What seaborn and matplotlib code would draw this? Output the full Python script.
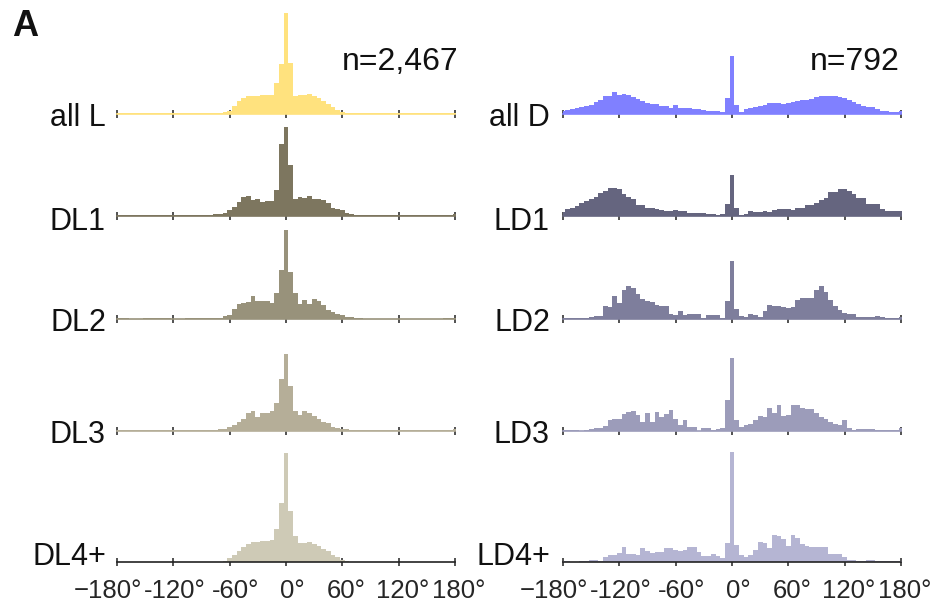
import numpy as np
import pandas as pd
import matplotlib
matplotlib.use("Agg")
import matplotlib.pyplot as plt
import matplotlib.transforms as mtransforms
import seaborn as sns

sns.set_theme(style="white")
plt.rcParams['font.family'] = ['Liberation Sans', 'DejaVu Sans']

# bin centres (degrees), 5-degree bins
centers = np.arange(-180, 181, 5)

# ---- left column (L) ----
all_L = [1,1,1,1,1,1,1,1,1,1,1,1,
         1,1,1,1,1,1,1,1,1,1,1.5,2,
         3,8,13,16,18,18,18.5,19,19,19.5,31,50,
         101,
         51,18,19,19.5,20,18,16,13,10,7,4,2,
         1.5,1,1,1,1,1,1,1,1,1,1,1,
         1,1,1,1,1,1,1,1,1,1,1,1]
DL1 = [1,1,1,1,1,1,1,1.5,1,1,1,1,
       1,1,1,1,1,1,1.5,1.5,1.5,2,2,3,
       6,9,14,19,20,16,17,14,15,15,26,72,
       89,
       51,17,19,18,20,17,17,16,13,8,7,6,
       3,2,1.5,1,1,1,1,1,1,1,1,1,
       1,1,1,1,1,1,1,1,1,1,1.5,2]
DL2 = [1,1,1,0.5,0.5,0.5,1,1,1,1,1,1,
       0.5,0.5,0.5,1,1,1.5,1.5,1.5,1,1,1,3,
       4,10,15,16,17,23,18,18,18,16,26,49,
       89,
       47,26,15,19,15,20,18,14,9,7,5,4,
       2,2,1,1,0.5,0.5,0.5,0.5,0.5,0.5,0.5,0.5,
       0.5,0.5,0.5,0.5,0.5,0.5,0.5,0.5,0.5,1,1,1.5]
DL3 = [1,1,1,1,1,1,1,1,1,1,1,1,
       1,1,1,1,1,1,1,1,1,1,2,2,
       4,6,9,12,18,20,14,18,18,20,28,52,
       77,
       45,20,16,20,18,15,12,9,8,4,3,2,
       2,1,1,1,1,1,1,1,1,1,1,1,
       1,1,1,1,1,1,1,1,1,1,1,2]
DL4 = [0.3,0.3,0.3,0.3,0.3,0.3,0.3,0.3,0.3,0.3,0.3,0.3,
       0.3,0.3,0.3,0.3,0.3,0.3,0.3,0.3,0.3,0.3,0.5,1,
       4,7,11,15,18,20,20,21,21,22,33,59,
       109,
       51,26,19,19,20,18,16,13,11,7,5,2,
       1,0.5,0.3,0.3,0.3,0.3,0.3,0.3,0.3,0.3,0.3,0.3,
       0.3,0.3,0.3,0.3,0.3,0.3,0.3,0.3,0.3,0.3,0.3,0.3]

# ---- right column (D) ----
all_D = [3,4,5,6,7,8,9,12,14,18,18,22,
         19,20,19,17,15,13,11,10,10,8,8,6,
         9,6,6,6,5,5,4,3,3,3,2,16,
         58,
         9,2,5,6,7,8,9,11,11,11,10,11,
         12,13,14,14,15,17,18,18,18,18,17,16,
         14,12,10,8,7,7,5,3,3,2,2,3]
LD1 = [4,7,8,10,13,15,17,19,23,25,28,28,
       27,22,19,17,11,11,8,8,7,6,5,5,
       6,5,5,3,3,3,3,2,2,1.5,2,12,
       41,
       8,1.5,2,5,4,4,5,4,6,7,7,7,
       6,8,8,11,11,13,16,18,24,24,27,27,
       25,22,18,18,12,12,12,7,5,5,5,5]
LD2 = [1,1,1.5,1,1.5,1.5,2,3,3,13,12,23,
       16,29,33,31,25,20,18,17,14,13,13,5,
       4,8,4,5,5,5,1,4,4,4,1,18,
       58,
       10,3,2,5,4,2,8,14,13,13,12,11,
       12,19,21,21,21,29,33,27,19,13,9,6,
       5,5,2,2,2,2,3,2,1,1,1,2]
LD3 = [1,1,1,1,0.5,1,2,3,3,5,11,12,
       12,17,19,20,16,9,18,9,19,14,17,21,
       12,6,11,4,4,0.3,3,3,1,2,3,31,
       73,
       11,4,6,7,11,15,14,23,18,26,15,16,
       26,26,23,22,22,18,14,12,9,7,6,11,
       3,1,2,2,2,2,1,1,1,1,1,3]
LD4 = [1,1,0.5,0.5,1,1,2,2,1,5,7,7,
       9,15,8,8,7,14,11,9,10,10,14,14,
       12,11,12,15,15,10,6,6,8,6,4,19,
       122,
       17,7,5,7,12,20,19,14,27,26,23,16,
       27,24,18,16,15,15,15,15,8,8,8,5,
       2,2,1,1,2,2,1,1,1,1,1,1]

left_names = ["all L", "DL1", "DL2", "DL3", "DL4+"]
right_names = ["all D", "LD1", "LD2", "LD3", "LD4+"]
left_vals = [all_L, DL1, DL2, DL3, DL4]
right_vals = [all_D, LD1, LD2, LD3, LD4]
left_colors = ["#FFE27E", "#7D765F", "#98927B", "#B5AE98", "#CECAB6"]
right_colors = ["#8080FF", "#65657F", "#7E7E9C", "#9C9CBA", "#B5B5D3"]
counts = ["n=2,467", "n=792"]

tick_pos = [-180, -120, -60, 0, 60, 120, 180]
tick_lbl = ["\u2212180°", "-120°", "-60°", "0°", "60°", "120°", "180°"]
tick_shift_px = [-9, 1, 6, 6, 4, 4, 4]

W, H = 935, 612
fig = plt.figure(figsize=(W / 100, H / 100), dpi=100)

baselines = [114, 216, 319, 431, 562]
label_y = [118, 222, 323, 435, 557]
col_left = [117, 563]
label_right = [106, 550]
ax_w = 338
ax_h = 110

for col, (names, vals, cols) in enumerate([(left_names, left_vals, left_colors),
                                             (right_names, right_vals, right_colors)]):
    for r in range(5):
        assert len(vals[r]) == len(centers)
        df = pd.DataFrame({"angle": centers.astype(float),
                           "w": np.asarray(vals[r], dtype=float)})
        ax = fig.add_axes([col_left[col] / W, (H - baselines[r]) / H, ax_w / W, ax_h / H])
        ax.set_facecolor("none")
        sns.histplot(data=df, x="angle", weights="w", binwidth=5,
                     binrange=(-182.5, 182.5), element="step",
                     fill=True, color=cols[r], alpha=1, linewidth=0, ax=ax)
        ax.set_xlim(-180, 180)
        ax.set_ylim(0, ax_h)
        for s in ["top", "right", "left"]:
            ax.spines[s].set_visible(False)
        ax.spines["bottom"].set_color("#222222" if r == 4 else cols[r])
        ax.spines["bottom"].set_linewidth(1.2)
        ax.set_yticks([])
        ax.set_xticks(tick_pos)
        ax.tick_params(axis="x", direction="inout", length=6, width=1.1,
                       color="#222222", labelsize=18.5, pad=9, bottom=True)
        if r == 4:
            ax.set_xticklabels(tick_lbl)
            for lab, dx in zip(ax.get_xticklabels(), tick_shift_px):
                lab.set_transform(lab.get_transform() +
                                  mtransforms.ScaledTranslation(dx / 100, 0, fig.dpi_scale_trans))
        else:
            ax.set_xticklabels([])
        ax.set_xlabel("")
        ax.set_ylabel("")
        fig.text(label_right[col] / W, (H - label_y[r]) / H, names[r], ha="right",
                 va="center", fontsize=22, color="#111111")

fig.text(458 / W, (H - 62) / H, counts[0], ha="right", va="center", fontsize=23, color="#111111")
fig.text(900 / W, (H - 62) / H, counts[1], ha="right", va="center", fontsize=23, color="#111111")
fig.text(12 / W, (H - 27) / H, "A", ha="left", va="center", fontsize=26,
         fontweight="bold", color="#111111")

fig.savefig("out.png", dpi=100)
